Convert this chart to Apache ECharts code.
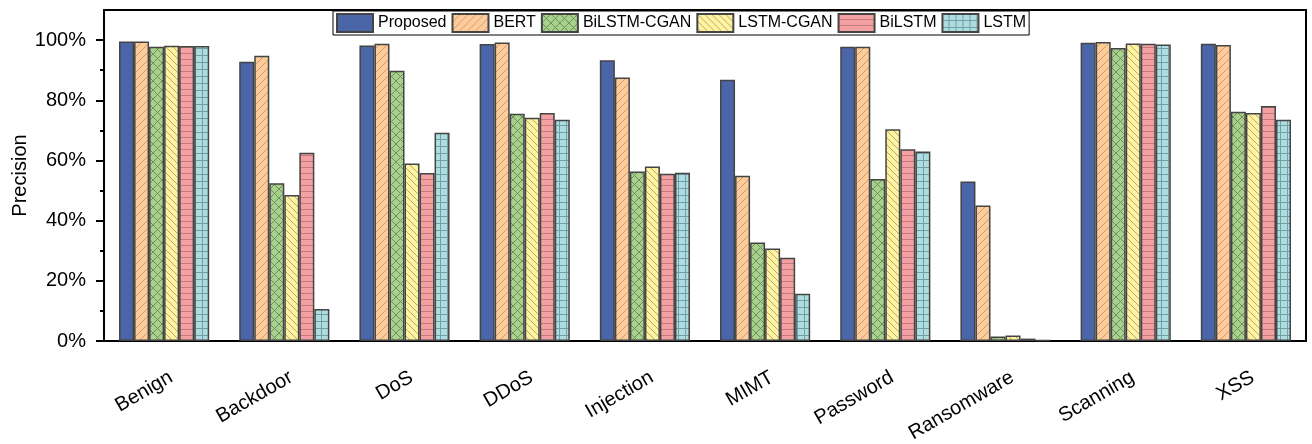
<!DOCTYPE html>
<html>
<head>
<meta charset="utf-8">
<script src="https://cdn.jsdelivr.net/npm/echarts@6/dist/echarts.min.js"></script>
<style>html,body{margin:0;padding:0;background:#fff;}#c{width:1312px;height:444px;}</style>
</head>
<body>
<div id="c"></div>
<script>
const categories = ['Benign','Backdoor','DoS','DDoS','Injection','MIMT','Password','Ransomware','Scanning','XSS'];
const seriesNames = ['Proposed','BERT','BiLSTM-CGAN','LSTM-CGAN','BiLSTM','LSTM'];
const proposed   = [99.5, 92.8, 98.2, 98.7, 93.3, 86.8, 97.8, 53.0, 99.1, 98.8];
const bert       = [99.5, 94.8, 98.8, 99.2, 87.6, 54.9, 97.8, 45.0, 99.4, 98.4];
const bilstmCgan = [97.8, 52.4, 89.8, 75.5, 56.3, 32.7, 53.8, 1.5, 97.4, 76.2];
const lstmCgan   = [98.1, 48.5, 59.0, 74.2, 58.0, 30.7, 70.4, 1.8, 98.9, 75.8];
const bilstm     = [98.0, 62.6, 55.8, 75.8, 55.6, 27.7, 63.7, 0.8, 98.8, 78.1];
const lstm       = [98.0, 10.6, 69.2, 73.5, 55.9, 15.7, 63.0, 0.3, 98.5, 73.5];
const yTicks = [0, 20, 40, 60, 80, 100];
const yMinorTicks = [10, 30, 50, 70, 90];

function makePattern(bg, line, kind, s) {
  const c = document.createElement('canvas');
  c.width = s; c.height = s;
  const g = c.getContext('2d');
  g.fillStyle = bg; g.fillRect(0, 0, s, s);
  g.strokeStyle = line; g.lineWidth = 1;
  g.beginPath();
  if (kind === 'fwd' || kind === 'cross') {
    g.moveTo(0, s); g.lineTo(s, 0);
    g.moveTo(-1, 1); g.lineTo(1, -1);
    g.moveTo(s - 1, s + 1); g.lineTo(s + 1, s - 1);
  }
  if (kind === 'back' || kind === 'cross') {
    g.moveTo(0, 0); g.lineTo(s, s);
    g.moveTo(s - 1, -1); g.lineTo(s + 1, 1);
    g.moveTo(-1, s - 1); g.lineTo(1, s + 1);
  }
  if (kind === 'horiz' || kind === 'grid') {
    g.moveTo(0, s - 0.5); g.lineTo(s, s - 0.5);
  }
  if (kind === 'grid') {
    g.moveTo(s - 0.5, 0); g.lineTo(s - 0.5, s);
  }
  g.stroke();
  return { image: c, repeat: 'repeat' };
}

const fills = [
  '#4a65a8',
  makePattern('#ffcc99', '#c99f78', 'fwd', 8),
  makePattern('#a9d18e', '#6f8f5c', 'cross', 9),
  makePattern('#fff3a0', '#b5aa72', 'back', 7),
  makePattern('#f4a0a3', '#c27a7c', 'horiz', 6),
  makePattern('#addde0', '#739fa2', 'grid', 7)
];
const datasets = [proposed, bert, bilstmCgan, lstmCgan, bilstm, lstm];

const chart = echarts.init(document.getElementById('c'), null, { renderer: 'canvas' });
const font = 'Liberation Sans, Arial, sans-serif';
chart.setOption({
  animation: false,
  textStyle: { fontFamily: font },
  grid: { left: 104, right: 6, top: 10, bottom: 103, show: true, borderColor: '#000', borderWidth: 2, containLabel: false, outerBoundsMode: 'none' },
  legend: {
    left: 333, top: 11, orient: 'horizontal', icon: 'rect',
    itemWidth: 36, itemHeight: 18, itemGap: 5,
    padding: [2, 3, 2, 3],
    backgroundColor: '#fff', borderColor: '#000', borderWidth: 1,
    textStyle: { fontSize: 16, color: '#000', fontFamily: font },
    data: seriesNames
  },
  xAxis: [{
    type: 'category', data: categories,
    axisLine: { lineStyle: { color: '#000', width: 2 } },
    axisTick: { alignWithLabel: true, length: 8, lineStyle: { color: '#000', width: 2 } },
    axisLabel: { rotate: 30, fontSize: 20, color: '#000', fontFamily: font, margin: 39, interval: 0, padding: [0, -8, 0, 0] }
  }, {
    type: 'category', data: categories, position: 'bottom',
    axisLine: { show: false },
    axisTick: { length: 5, lineStyle: { color: '#000', width: 2 } },
    axisLabel: { show: false }
  }],
  yAxis: [{
    type: 'value', min: 0, max: 110, interval: 20,
    name: 'Precision', nameLocation: 'middle', nameGap: 74, nameRotate: 90, nameMoveOverlap: false,
    nameTextStyle: { fontSize: 20, color: '#000', fontFamily: font },
    axisLine: { show: true, lineStyle: { color: '#000', width: 2 } },
    axisTick: { show: true, length: 8, customValues: yTicks, lineStyle: { color: '#000', width: 2 } },
    axisLabel: { customValues: yTicks, formatter: '{value}%', fontSize: 20, color: '#000', fontFamily: font, margin: 18 },
    splitLine: { show: false }
  }, {
    type: 'value', min: 0, max: 110, position: 'left',
    axisLine: { show: false },
    axisTick: { show: true, length: 4, customValues: yMinorTicks, lineStyle: { color: '#000', width: 2 } },
    axisLabel: { show: false },
    splitLine: { show: false }
  }],
  series: seriesNames.map((n, i) => ({
    name: n, type: 'bar', data: datasets[i],
    xAxisIndex: 0, yAxisIndex: 0,
    barGap: '0%', barCategoryGap: '25%',
    itemStyle: { color: fills[i], borderColor: '#444', borderWidth: 1.5 }
  }))
});
</script>
</body>
</html>
